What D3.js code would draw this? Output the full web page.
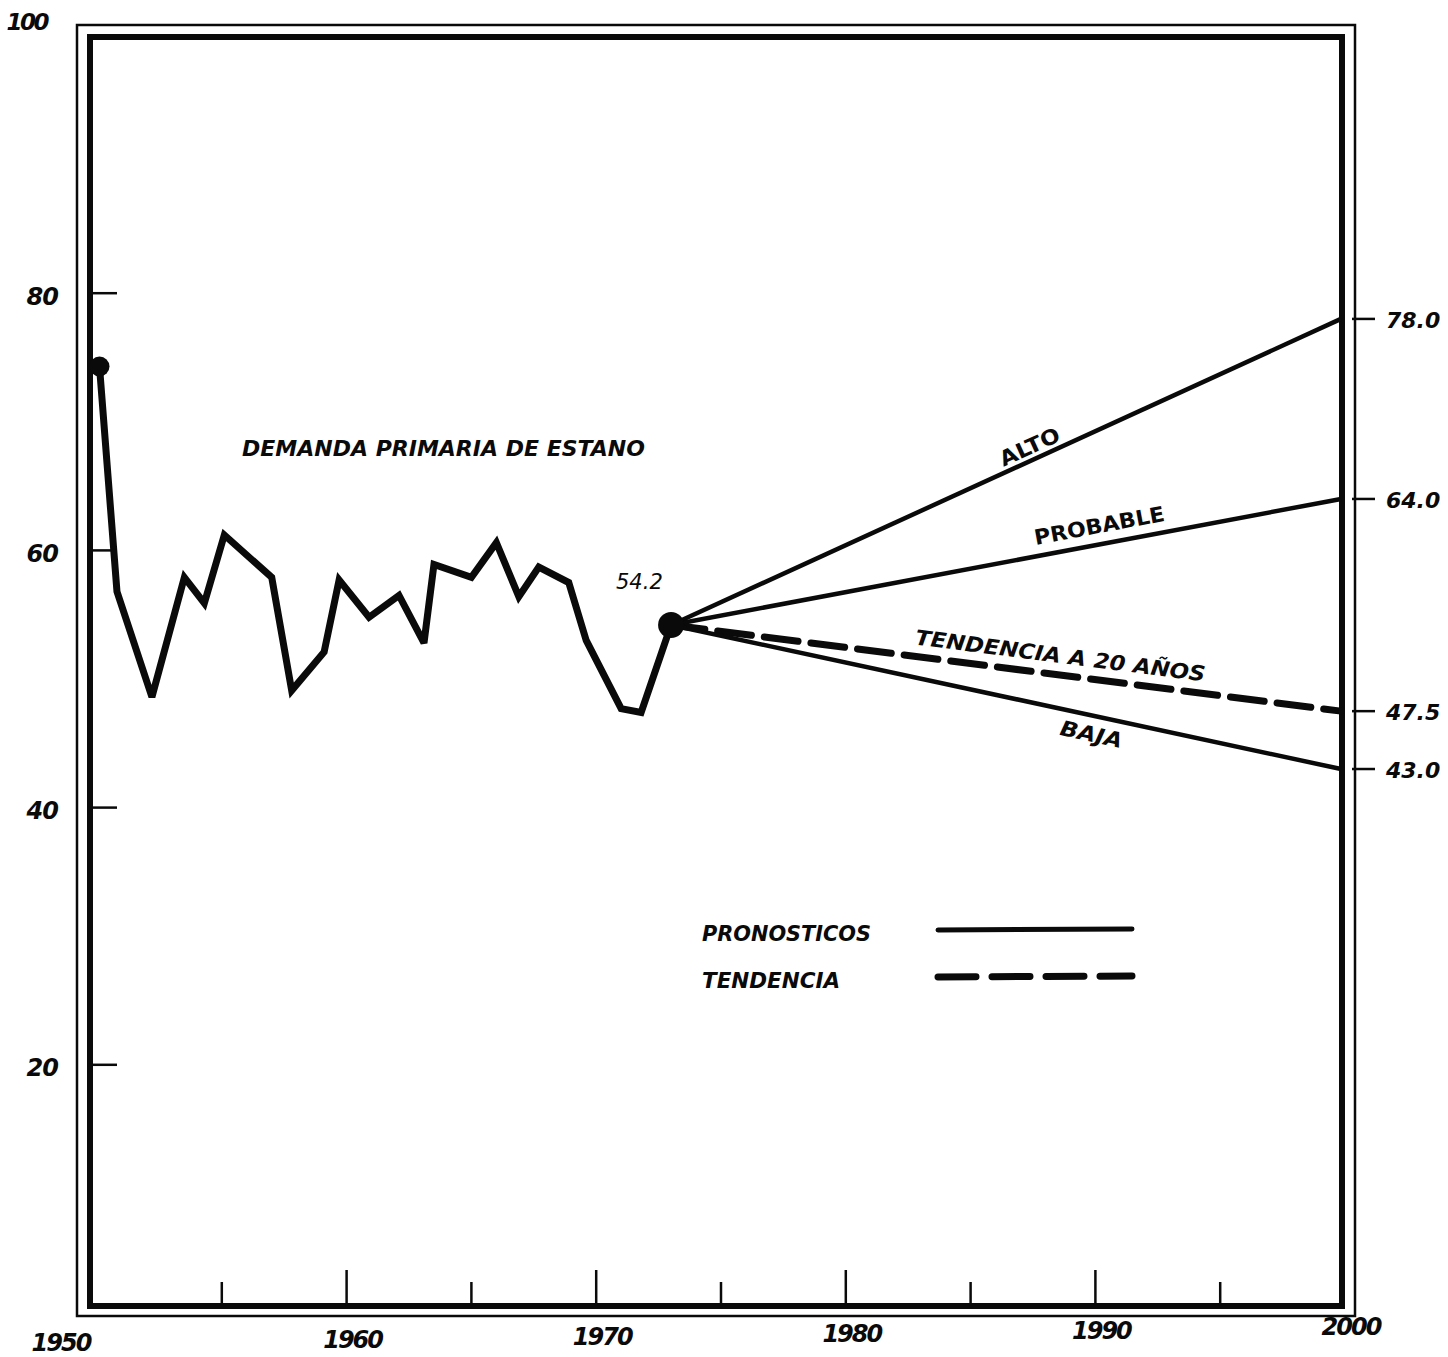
<!DOCTYPE html>
<html><head><meta charset="utf-8">
<script src="https://cdn.jsdelivr.net/npm/d3@7"></script>
<style>body{margin:0;background:#fff}</style>
</head><body>
<svg id="chart" width="1448" height="1357"></svg>
<script>
// ---- data ----
const histYears  = [1950.1,1950.8,1952.2,1953.5,1954.3,1955.1,1957.0,1957.8,1959.1,1959.7,1960.9,1962.1,1963.1,1963.5,1965.0,1966.0,1966.9,1967.7,1968.9,1969.6,1971.0,1971.8,1973.0];
const histValues = [74.3,56.8,48.6,57.9,55.9,61.2,57.9,49.1,52.1,57.7,54.8,56.5,52.8,58.9,57.9,60.6,56.4,58.7,57.5,53.0,47.7,47.4,54.2];
const forecastStartYear = 1973.0;
const forecastStartValue = 54.2;
const forecastEndYear = 2000;
const forecastNames  = ["ALTO","PROBABLE","TENDENCIA A 20 AÑOS","BAJA"];
const forecastEnd    = [78.0, 64.0, 47.5, 43.0];
const forecastDashed = [false, false, true, false];
const endLabels = ["78.0","64.0","47.5","43.0"];
const yTickValues = [20,40,60,80];
const yTickLabels = ["20","40","60","80"];
const xTickYears = [1955,1960,1965,1970,1975,1980,1985,1990,1995];
const xLabelYears = [1950,1960,1970,1980,1990,2000];
const titleText = "DEMANDA PRIMARIA DE ESTANO";
const startLabel = "54.2";
const legendLabels = ["PRONOSTICOS","TENDENCIA"];

// ---- layout ----
const svg = d3.select("#chart");
const x = d3.scaleLinear().domain([1950,2000]).range([97,1345]);
const y = d3.scaleLinear().domain([0,100]).range([1322,36]);
const inner = {l:90, t:37, r:1342, b:1306};
const outer = {l:77, t:25, r:1355, b:1316};
const ink = "#0a0a0a";
const font = "'DejaVu Sans', 'Liberation Sans', sans-serif";

// frames
svg.append("rect").attr("x",outer.l).attr("y",outer.t)
  .attr("width",outer.r-outer.l).attr("height",outer.b-outer.t)
  .attr("fill","none").attr("stroke",ink).attr("stroke-width",2.5);
svg.append("rect").attr("x",inner.l).attr("y",inner.t)
  .attr("width",inner.r-inner.l).attr("height",inner.b-inner.t)
  .attr("fill","none").attr("stroke",ink).attr("stroke-width",6);

// y ticks
svg.selectAll(".ytick").data(yTickValues).join("line")
  .attr("x1",inner.l).attr("x2",inner.l+27)
  .attr("y1",d=>y(d)).attr("y2",d=>y(d))
  .attr("stroke",ink).attr("stroke-width",2.5);
svg.selectAll(".ylab").data(yTickValues).join("text")
  .attr("x",58).attr("y",d=>y(d)+3).attr("dy","0.35em")
  .attr("text-anchor","end")
  .attr("font-family",font).attr("font-weight","bold").attr("font-style","oblique")
  .attr("font-size",24).attr("fill",ink).attr("letter-spacing",-1)
  .text((d,i)=>yTickLabels[i]);
svg.append("text").attr("x",47).attr("y",y(100)-14).attr("dy","0.35em")
  .attr("text-anchor","end")
  .attr("font-family",font).attr("font-weight","bold").attr("font-style","oblique")
  .attr("font-size",23).attr("fill",ink).attr("letter-spacing",-2.5).text("100");

// x ticks
svg.selectAll(".xtick").data(xTickYears).join("line")
  .attr("x1",d=>x(d)).attr("x2",d=>x(d))
  .attr("y1",inner.b).attr("y2",d=> d%10===0 ? inner.b-36 : inner.b-24)
  .attr("stroke",ink).attr("stroke-width",2.5);
svg.selectAll(".xlab").data(xLabelYears).join("text")
  .attr("x",d=>x(d)+ (d===1950 ? -36 : 6)).attr("y",d=>1343 - (d-1950)*0.32).attr("dy","0.35em")
  .attr("text-anchor","middle")
  .attr("font-family",font).attr("font-weight","bold").attr("font-style","oblique")
  .attr("font-size",24).attr("fill",ink).attr("letter-spacing",-2)
  .text(d=>d);

// historical series
const hist = histYears.map((yr,i)=>[yr,histValues[i]]);
svg.append("path").datum(hist)
  .attr("d", d3.line().x(d=>x(d[0])).y(d=>y(d[1])))
  .attr("fill","none").attr("stroke",ink).attr("stroke-width",7)
  .attr("stroke-linejoin","miter").attr("stroke-miterlimit",3);

// forecasts
const fc = forecastNames.map((n,i)=>({name:n,end:forecastEnd[i],dashed:forecastDashed[i],label:endLabels[i]}));
svg.selectAll(".fc").data(fc).join("line")
  .attr("x1",x(forecastStartYear)).attr("y1",y(forecastStartValue))
  .attr("x2",x(forecastEndYear)-4).attr("y2",d=>y(d.end))
  .attr("stroke",ink)
  .attr("stroke-width",d=>d.dashed?7:4.5)
  .attr("stroke-dasharray",d=>d.dashed?"34,13":null)
  .attr("stroke-linecap",d=>d.dashed?"round":"butt");

// endpoint dots
svg.append("circle").attr("cx",x(histYears[0])).attr("cy",y(histValues[0])).attr("r",10).attr("fill",ink);
svg.append("circle").attr("cx",x(forecastStartYear)).attr("cy",y(forecastStartValue)).attr("r",13).attr("fill",ink);

// right-hand value ticks & labels
svg.selectAll(".rtick").data(fc).join("line")
  .attr("x1",outer.r-3).attr("x2",outer.r+20)
  .attr("y1",d=>y(d.end)).attr("y2",d=>y(d.end))
  .attr("stroke",ink).attr("stroke-width",2.5);
svg.selectAll(".rlab").data(fc).join("text")
  .attr("x",1386).attr("y",d=>y(d.end)+1).attr("dy","0.35em")
  .attr("text-anchor","start")
  .attr("font-family",font).attr("font-style","oblique").attr("font-weight","bold")
  .attr("font-size",22).attr("fill",ink)
  .text(d=>d.label);

// labels along the forecast lines
const labelPos = {"ALTO":{yr:1987.6,off:-14,len:64,italic:false},
                  "PROBABLE":{yr:1990.3,off:-19,len:132,italic:false},
                  "TENDENCIA A 20 AÑOS":{yr:1988.5,off:-19,len:292,italic:true},
                  "BAJA":{yr:1990.0,off:19,len:63,italic:true}};
fc.forEach(d=>{
  const p = labelPos[d.name];
  const x0 = x(forecastStartYear), y0 = y(forecastStartValue);
  const x1 = x(forecastEndYear), y1 = y(d.end);
  const t = (x(p.yr)-x0)/(x1-x0);
  const px = x0 + t*(x1-x0), py = y0 + t*(y1-y0);
  const ang = Math.atan2(y1-y0, x1-x0);
  const nx = -Math.sin(ang), ny = Math.cos(ang);
  const cx = px + nx*p.off, cy = py + ny*p.off;
  svg.append("text")
    .attr("transform",`translate(${cx},${cy}) rotate(${ang*180/Math.PI})`)
    .attr("text-anchor","middle").attr("dy","0.35em")
    .attr("font-family",font).attr("font-weight","bold")
    .attr("font-style",p.italic?"oblique":"normal")
    .attr("font-size",21).attr("fill",ink)
    .attr("textLength",p.len).attr("lengthAdjust","spacingAndGlyphs")
    .text(d.name);
});

// title and start label
svg.append("text").attr("x",242).attr("y",456)
  .attr("font-family",font).attr("font-weight","bold").attr("font-style","oblique")
  .attr("font-size",22).attr("fill",ink)
  .attr("textLength",403).attr("lengthAdjust","spacingAndGlyphs")
  .text(titleText);
svg.append("text").attr("x",616).attr("y",589)
  .attr("font-family",font).attr("font-style","oblique")
  .attr("font-size",21).attr("fill",ink)
  .text(startLabel);

// legend
const legY = [932, 979];
const legLen = [169, 138];
legendLabels.forEach((lab,i)=>{
  svg.append("text").attr("x",702).attr("y",legY[i]+1).attr("dy","0.35em")
    .attr("font-family",font).attr("font-weight","bold").attr("font-style","oblique")
    .attr("font-size",22).attr("fill",ink)
    .attr("textLength",legLen[i]).attr("lengthAdjust","spacingAndGlyphs")
    .text(lab);
  svg.append("line").attr("x1",938).attr("x2",1132).attr("y1",legY[i]-2).attr("y2",legY[i]-3)
    .attr("stroke",ink).attr("stroke-width",i===0?5:7)
    .attr("stroke-linecap","round")
    .attr("stroke-dasharray",i===0?null:"38,16");
});
</script>
</body></html>
